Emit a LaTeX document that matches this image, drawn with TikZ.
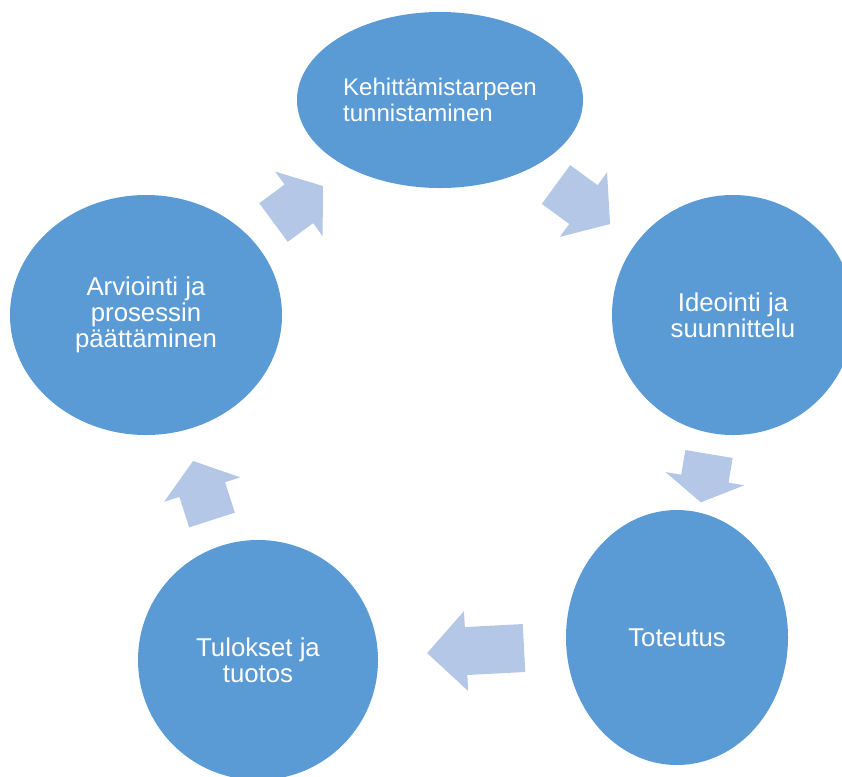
\documentclass[tikz,border=0pt]{standalone}
\usepackage{fontspec}
\setmainfont{Liberation Sans}
\usetikzlibrary{shapes.geometric}
\definecolor{kupla}{HTML}{5B9BD5}
\definecolor{nuoli}{HTML}{B4C7E7}
\tikzstyle{vaihe}=[ellipse, fill=kupla, text=white, inner sep=0pt, align=center, font=\fontsize{22}{22.2}\selectfont]
\tikzstyle{nuolipala}=[fill=nuoli]

\begin{document}
\begin{tikzpicture}[x=0.03cm, y=-0.03cm]
\useasboundingbox (0,0) rectangle (842,776);
\clip (0,0) rectangle (842,776);

% vaiheet
\node[vaihe, minimum width=8.58cm, minimum height=5.28cm, align=left, font=\fontsize{20.5}{22.2}\selectfont] (tunnistus) at (440,100) {Kehittämistarpeen\\tunnistaminen};
\node[vaihe, minimum width=7.26cm, minimum height=7.2cm] (ideointi) at (733,315) {Ideointi ja\\suunnittelu};
\node[vaihe, minimum width=6.66cm, minimum height=7.65cm] (toteutus) at (677,637.5) {Toteutus};
\node[vaihe, minimum width=7.2cm, minimum height=7.2cm] (tulokset) at (258,660) {Tulokset ja\\tuotos};
\node[vaihe, minimum width=8.16cm, minimum height=7.2cm] (arviointi) at (146,315) {Arviointi ja\\prosessin\\päättäminen};

% nuolet
\foreach \x/\y/\a/\l/\h in {556/184.5/-36.2/67/33, 709/454/-99.5/49/24, 524/648/-177/97/39, 212/520/107.8/62/30, 273.5/222.5/36.4/61.5/30}
    \fill[nuolipala, shift={(\x,\y)}, rotate=\a] (0,-24) -- ({\l-\h},-24) -- ({\l-\h},-40) -- (\l,0) -- ({\l-\h},40) -- ({\l-\h},24) -- (0,24) -- cycle;

\end{tikzpicture}
\end{document}
